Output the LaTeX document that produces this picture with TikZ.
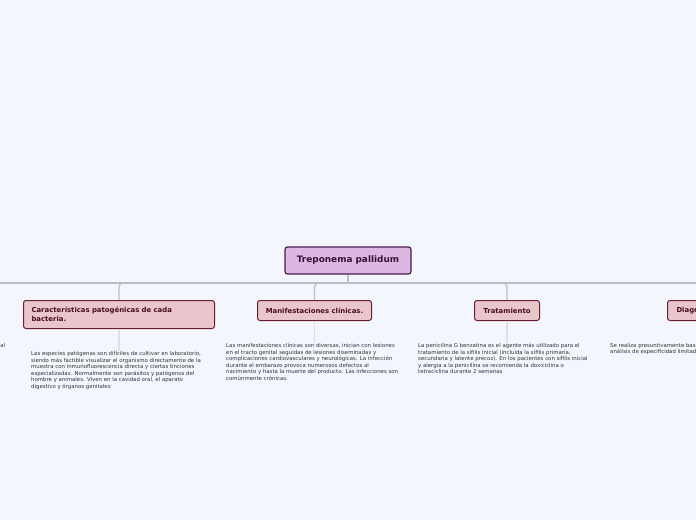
\documentclass[tikz,border=0pt]{standalone}
\usepackage{fontspec}
\setmainfont{DejaVu Sans}
\usetikzlibrary{positioning}
\definecolor{bgcol}{HTML}{F4F6FE}
\definecolor{rootfill}{HTML}{DDB6E2}
\definecolor{rootline}{HTML}{4A1B4E}
\definecolor{topicfill}{HTML}{E9C6CB}
\definecolor{topicline}{HTML}{6B1E32}
\definecolor{topictext}{HTML}{4A0E1E}
\definecolor{conncol}{HTML}{B9BDC6}
\definecolor{stubcol}{HTML}{DDE0EA}
\definecolor{notetext}{HTML}{333333}

\tikzset{
  rootbox/.style={draw=rootline, fill=rootfill, line width=1.2pt, rounded corners=2.5pt,
    font=\bfseries\fontsize{8.9}{10}\selectfont, text=rootline!70!black,
    inner sep=0pt, minimum width=126, minimum height=27},
  topic/.style={draw=topicline, fill=topicfill, line width=1pt, rounded corners=2.5pt,
    font=\bfseries\fontsize{6.9}{9}\selectfont, text=topictext,
    inner sep=0pt, minimum height=20, anchor=north west},
  note/.style={font=\fontsize{5.4}{6.5}\selectfont, text=notetext, align=left,
    anchor=north west, inner sep=0pt},
  conn/.style={draw=conncol, line width=1.2pt, rounded corners=4pt},
  stub/.style={draw=stubcol, line width=1.2pt},
}

\begin{document}
\begin{tikzpicture}[x=1pt,y=-1pt]
\fill[bgcol] (0,0) rectangle (696,520);
\clip (0,0) rectangle (696,520);

% central topic
\node[rootbox] (root) at (348,260.5) {Treponema pallidum};
\coordinate (hub) at (348,283);
\coordinate (offl) at (-30,283);
\coordinate (offr) at (730,283);

% main topics
\node[topic, minimum width=191, minimum height=28, inner xsep=8pt,
      text width=175, align=left] (carac) at (23,300)
  {Características patogénicas de cada\\bacteria.};
\node[topic, minimum width=114] (manif) at (257,300) {Manifestaciones clínicas.};
\node[topic, minimum width=65] (trat) at (474,300) {Tratamiento};
\node[topic, inner xsep=9pt] (diag) at (667,300) {Diagnóstico};

% notes
\node[note] (ncarac) at (31,351)
  {Las especies patógenas son difíciles de cultivar en laboratorio,\\
   siendo más factible visualizar el organismo directamente de la\\
   muestra con inmunofluorescencia directa y ciertas tinciones\\
   especializadas. Normalmente son parásitos y patógenos del\\
   hombre y animales. Viven en la cavidad oral, el aparato\\
   digestivo y órganos genitales};
\node[note] (nmanif) at (226,343)
  {Las manifestaciones clínicas son diversas, inician con lesiones\\
   en el tracto genital seguidas de lesiones diseminadas y\\
   complicaciones cardiovasculares y neurológicas. La infección\\
   durante el embarazo provoca numerosos defectos al\\
   nacimiento y hasta la muerte del producto. Las infecciones son\\
   comúnmente crónicas.};
\node[note] (ntrat) at (418,343)
  {La penicilina G benzatina es el agente más utilizado para el\\
   tratamiento de la sífilis inicial (incluida la sífilis primaria,\\
   secundaria y latente precoz). En los pacientes con sífilis inicial\\
   y alergia a la penicilina se recomienda la doxiciclina o\\
   tetraciclina durante 2 semanas};
\node[note] (ndiag) at (610,343)
  {Se realiza presuntivamente basado en\\
   análisis de especificidad limitada};
\node[note, anchor=north east] (nleft) at (5.5,343) {al};

% connectors
\draw[conn] (root.south) -- (hub);
\draw[conn] (hub) -- (offl);
\draw[conn] (hub) -- (offr);
\draw[conn] (hub) -| (carac.north);
\draw[conn] (hub) -| (manif.north);
\draw[conn] (hub) -| (trat.north);
\draw[stub] (carac.south) -- (carac.south |- ncarac.north);
\draw[stub] (manif.south) -- (manif.south |- nmanif.north);
\draw[stub] (trat.south) -- (trat.south |- ntrat.north);
\end{tikzpicture}
\end{document}
